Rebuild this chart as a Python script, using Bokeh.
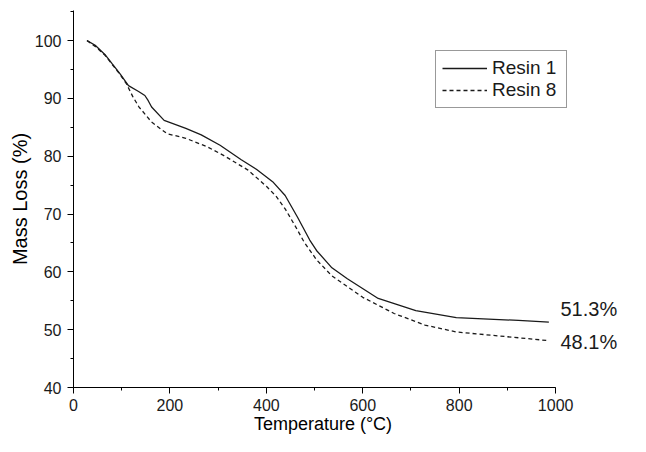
from bokeh.plotting import figure
from bokeh.models import Legend, LinearAxis, FixedTicker
from bokeh.embed import file_html
from bokeh.resources import INLINE

# Resin 1 (solid)
temp_r1 = [28, 45, 65, 80, 97, 114, 135, 148, 155, 162, 188, 233, 265, 304, 348, 380, 413, 439, 465, 490, 504, 536, 568, 632, 710, 794, 923, 986]
mass_r1 = [100, 99.2, 97.6, 96.0, 94.2, 92.2, 91.2, 90.5, 89.6, 88.5, 86.2, 84.8, 83.7, 81.9, 79.4, 77.7, 75.6, 73.2, 69.4, 65.5, 63.7, 60.7, 58.8, 55.4, 53.3, 52.1, 51.6, 51.3]
# Resin 8 (dashed)
temp_r8 = [28, 45, 65, 80, 97, 110, 123, 136, 162, 194, 233, 278, 310, 362, 400, 420, 439, 460, 478, 504, 536, 600, 665, 729, 794, 923, 986]
mass_r8 = [100, 99.0, 97.5, 95.9, 94.1, 92.5, 90.3, 88.5, 85.9, 83.9, 83.1, 81.6, 80.2, 77.6, 74.8, 73.1, 70.9, 67.9, 65.2, 62.1, 59.3, 55.6, 52.8, 50.8, 49.6, 48.6, 48.1]

series_names = ["Resin 1", "Resin 8"]
end_labels = ["51.3%", "48.1%"]
x_ticks = [0, 200, 400, 600, 800, 1000]
y_ticks = [40, 50, 60, 70, 80, 90, 100]

FONT = "Liberation Sans"
INK = "#1a1a1a"

p = figure(width=630, height=436, x_range=(0, 1035), y_range=(40, 105.2),
           output_backend="svg", toolbar_location=None,
           min_border_left=73, min_border_right=58, min_border_top=10, min_border_bottom=46)
p.outline_line_color = None
p.grid.visible = False
p.background_fill_color = "white"

r1 = p.line(temp_r1, mass_r1, line_color=INK, line_width=1.3)
r8 = p.line(temp_r8, mass_r8, line_color=INK, line_width=1.3, line_dash="4 3")

legend = Legend(items=[(series_names[0], [r1]), (series_names[1], [r8])],
                location=(362, 279))
legend.label_text_font = FONT
legend.label_text_font_size = "19px"
legend.label_text_color = INK
legend.glyph_width = 45
legend.glyph_height = 20
legend.label_height = 20
legend.label_width = 68
legend.label_standoff = 5
legend.spacing = 0
legend.padding = 6
legend.margin = 0
legend.border_line_color = "#333333"
legend.border_line_width = 1
legend.background_fill_alpha = 1
p.add_layout(legend)

p.xaxis.ticker = FixedTicker(ticks=x_ticks, minor_ticks=list(range(0, 1001, 100)))
p.yaxis.ticker = FixedTicker(ticks=y_ticks, minor_ticks=list(range(40, 106, 5)))
for ax in (p.xaxis, p.yaxis):
    ax.axis_line_color = "black"
    ax.major_tick_line_color = "black"
    ax.minor_tick_line_color = "black"
    ax.major_tick_out = 6
    ax.major_tick_in = 0
    ax.minor_tick_out = 3
    ax.minor_tick_in = 0
    ax.major_label_text_font = FONT
    ax.major_label_text_font_size = "16px"
    ax.major_label_text_color = INK
    ax.axis_label_text_font = FONT
    ax.axis_label_text_font_style = "normal"
    ax.axis_label_text_color = "black"
p.xaxis.major_label_standoff = 5
p.yaxis.major_label_standoff = 6
p.xaxis.bounds = (0, 1000)
p.xaxis.axis_label = "Temperature (°C)"
p.yaxis.axis_label = "Mass Loss (%)"
p.xaxis.axis_label_text_font_size = "18px"
p.yaxis.axis_label_text_font_size = "20px"
p.xaxis.axis_label_standoff = 0
p.yaxis.axis_label_standoff = 1

# end-value labels drawn as a bare right axis so they sit outside the frame
lab1 = mass_r1[-1] + 2.3
lab8 = mass_r8[-1] - 0.3
end_axis = LinearAxis(ticker=FixedTicker(ticks=[lab1, lab8], minor_ticks=[]),
                      major_label_overrides={lab1: end_labels[0], lab8: end_labels[1]})
end_axis.axis_line_color = None
end_axis.major_tick_line_color = None
end_axis.minor_tick_line_color = None
end_axis.major_tick_out = 0
end_axis.major_tick_in = 0
end_axis.major_label_standoff = -12
end_axis.major_label_text_font = FONT
end_axis.major_label_text_font_size = "20px"
end_axis.major_label_text_color = INK
p.add_layout(end_axis, "right")

open("out.html", "w").write(file_html(p, INLINE))
